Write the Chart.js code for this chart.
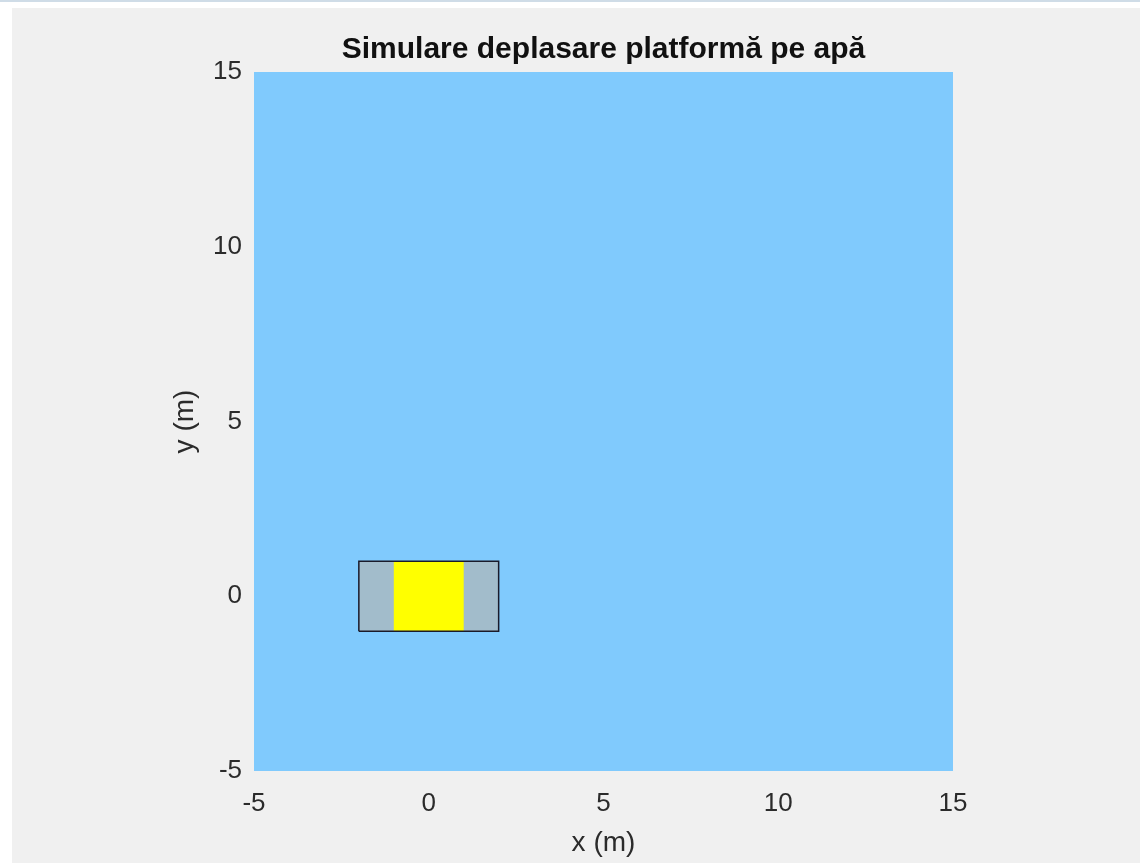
<!doctype html>
<html lang="ro">
<head>
    <meta charset="utf-8">
    <title>Simulare deplasare platformă pe apă</title>
    <script src="https://cdn.jsdelivr.net/npm/chart.js@4.4.1/dist/chart.umd.min.js"></script>
    <style>
        html, body { margin: 0; padding: 0; background: #ffffff; }
        body { border-top: 2px solid #cfdce7; width: 1140px; height: 861px; overflow: hidden; }
        #chartBox { position: absolute; left: 12px; top: 8px; width: 1128px; height: 855px; background: #f0f0f0; }
    </style>
    <script type="text/javascript">
        // axe (m)
        const xLimits = [-5, 15];
        const yLimits = [-5, 15];
        const tickStep = 5;

        // apa (toata zona de simulare)
        const waterX = [-5, 15, 15, -5];
        const waterY = [-5, -5, 15, 15];

        // platforma (cadru gri)
        const platformX = [-2, 2, 2, -2];
        const platformY = [-1, -1, 1, 1];

        // zona centrala galbena
        const deckX = [-1, 1, 1, -1];
        const deckY = [-1, -1, 1, 1];

        // poligon inchis din doua liste de coordonate
        const polygon = (xs, ys) => {
            const pts = xs.map((x, i) => ({ x: x, y: ys[i] }));
            pts.push({ x: xs[0], y: ys[0] });
            return pts;
        };

        const init = () => {
            const ctx = document.getElementById("myChart");
            new Chart(ctx, {
                type: 'line',
                data: {
                    datasets: [
                        {
                            label: 'apa',
                            data: polygon(waterX, waterY),
                            backgroundColor: '#80cafd',
                            borderWidth: 0,
                            fill: 'shape',
                            pointRadius: 0,
                            order: 4
                        },
                        {
                            label: 'platforma',
                            data: polygon(platformX, platformY),
                            backgroundColor: '#a2bccb',
                            borderWidth: 0,
                            fill: 'shape',
                            pointRadius: 0,
                            order: 3
                        },
                        {
                            label: 'centru',
                            data: polygon(deckX, deckY),
                            backgroundColor: '#ffff00',
                            borderWidth: 0,
                            fill: 'shape',
                            pointRadius: 0,
                            order: 2
                        },
                        {
                            label: 'contur',
                            data: polygon(platformX, platformY),
                            borderColor: '#1a1a2a',
                            borderWidth: 1.5,
                            fill: false,
                            pointRadius: 0,
                            order: 1
                        }
                    ]
                },
                options: {
                    responsive: false,
                    animation: false,
                    layout: { padding: { left: 150, right: 187, top: 0, bottom: 0 } },
                    plugins: {
                        legend: { display: false },
                        tooltip: { enabled: false },
                        title: {
                            display: true,
                            text: 'Simulare deplasare platformă pe apă',
                            fullSize: false,
                            color: '#111111',
                            font: { family: 'Liberation Sans, Arial, sans-serif', size: 30, weight: 'bold' },
                            padding: { top: 24, bottom: 4 }
                        }
                    },
                    scales: {
                        x: {
                            type: 'linear',
                            min: xLimits[0],
                            max: xLimits[1],
                            grid: { display: false, drawTicks: false },
                            border: { display: false },
                            ticks: {
                                stepSize: tickStep,
                                color: '#2b2b2b',
                                padding: 17,
                                maxRotation: 0,
                                font: { family: 'Liberation Sans, Arial, sans-serif', size: 26 }
                            },
                            title: {
                                display: true,
                                text: 'x (m)',
                                color: '#2b2b2b',
                                font: { family: 'Liberation Sans, Arial, sans-serif', size: 28 },
                                padding: { top: 0, bottom: 3 }
                            },
                            afterFit: (scale) => { scale.height = 92; }
                        },
                        y: {
                            type: 'linear',
                            min: yLimits[0],
                            max: yLimits[1],
                            grid: { display: false, drawTicks: false },
                            border: { display: false },
                            ticks: {
                                stepSize: tickStep,
                                color: '#2b2b2b',
                                padding: 12,
                                font: { family: 'Liberation Sans, Arial, sans-serif', size: 26 }
                            },
                            title: {
                                display: true,
                                text: 'y (m)',
                                color: '#2b2b2b',
                                font: { family: 'Liberation Sans, Arial, sans-serif', size: 28 },
                                padding: { top: 6, bottom: 0 }
                            },
                            afterFit: (scale) => { scale.width = 92; }
                        }
                    }
                }
            });
        };

        window.onload = init;
    </script>
</head>
<body>
    <div id="chartBox">
        <canvas id="myChart" width="1128" height="855"></canvas>
    </div>
</body>
</html>
